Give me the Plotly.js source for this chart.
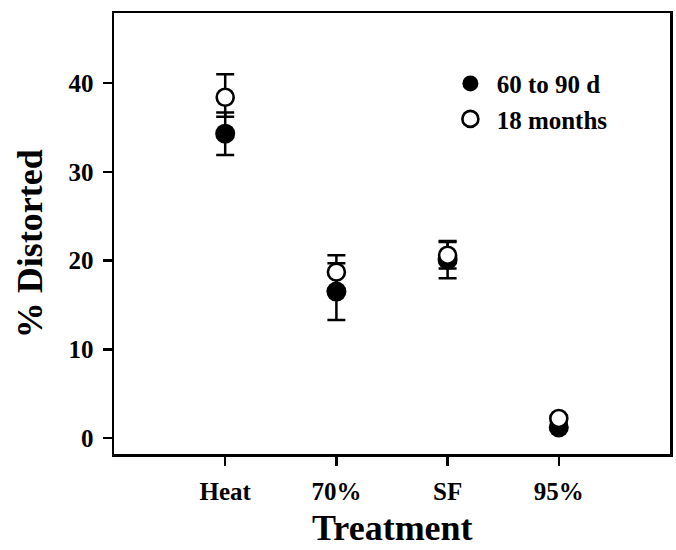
<!DOCTYPE html>
<html>
<head>
<meta charset="utf-8">
<script src="https://cdn.plot.ly/plotly-3.0.1.min.js"></script>
<style>html,body{margin:0;padding:0;background:#fff;}#chart{width:676px;height:550px;}</style>
</head>
<body>
<div id="chart"></div>
<script>
// Data
const treatments = ["Heat", "70%", "SF", "95%"];
const positions = [1, 2, 3, 4];
const early = [34.3, 16.5, 20.1, 1.2];        // 60 to 90 d (filled)
const earlyErrPlus = [2.4, 3.2, 2.1, 0.3];
const earlyErrMinus = [2.4, 3.2, 2.1, 0.3];
const late = [38.4, 18.7, 20.6, 2.2];         // 18 months (open)
const lateErrPlus = [2.6, 1.9, 1.5, 0.3];
const lateErrMinus = [2.2, 1.9, 1.5, 0.3];
const seriesNames = ["60 to 90 d", "18 months"];
const yTicks = [0, 10, 20, 30, 40];
const xTitle = "Treatment";
const yTitle = "% Distorted";

const serif = "'Liberation Serif', 'Times New Roman', serif";

const traces = [
  {
    x: positions, y: early, name: "\u00a0" + seriesNames[0], type: "scatter", mode: "markers",
    marker: {color: "#000", size: 20, line: {width: 0}},
    error_y: {type: "data", symmetric: false, array: earlyErrPlus, arrayminus: earlyErrMinus,
              color: "#000", thickness: 2.5, width: 9}
  },
  {
    x: positions, y: late, name: "\u00a0" + seriesNames[1], type: "scatter", mode: "markers",
    marker: {color: "#fff", size: 17, line: {color: "#000", width: 2.6}},
    error_y: {type: "data", symmetric: false, array: lateErrPlus, arrayminus: lateErrMinus,
              color: "#000", thickness: 2.5, width: 9}
  }
];

const layout = {
  width: 676, height: 550,
  margin: {l: 114, r: 6, t: 13, b: 96},
  paper_bgcolor: "#fff", plot_bgcolor: "#fff",
  font: {family: serif, color: "#000", size: 24},
  showlegend: true,
  legend: {
    x: 0.605, y: 0.892, xanchor: "left", yanchor: "top",
    font: {family: serif, size: 25, color: "#000", weight: "bold"},
    bgcolor: "rgba(0,0,0,0)", borderwidth: 0, tracegroupgap: 0,
    itemsizing: "trace"
  },
  xaxis: {
    range: [0, 5], tickmode: "array", tickvals: positions, ticktext: treatments,
    showgrid: false, zeroline: false,
    showline: true, linecolor: "#000", linewidth: 2.5, mirror: true,
    ticks: "outside", ticklen: 9, tickwidth: 2.5, tickcolor: "#000",
    tickfont: {family: serif, size: 25, color: "#000", weight: "bold"},
    ticklabelstandoff: 4
  },
  yaxis: {
    range: [-1.8, 47.9], tickmode: "array", tickvals: yTicks,
    showgrid: false, zeroline: false,
    showline: true, linecolor: "#000", linewidth: 2.5, mirror: true,
    ticks: "outside", ticklen: 9, tickwidth: 2.5, tickcolor: "#000",
    tickfont: {family: serif, size: 25, color: "#000", weight: "bold"},
    ticklabelstandoff: 4
  },
  annotations: [
    {
      text: yTitle, textangle: -90, showarrow: false,
      xref: "paper", yref: "paper", x: -0.151, y: 0.476, xanchor: "center", yanchor: "middle",
      font: {family: serif, size: 36, color: "#000", weight: "bold"}
    },
    {
      text: xTitle, showarrow: false, borderpad: 0,
      xref: "paper", yref: "paper", x: 0.5, y: -0.168, xanchor: "center", yanchor: "middle",
      font: {family: serif, size: 36, color: "#000", weight: "bold"}
    }
  ]
};

Plotly.newPlot("chart", traces, layout, {staticPlot: true, displayModeBar: false});
</script>
</body>
</html>
